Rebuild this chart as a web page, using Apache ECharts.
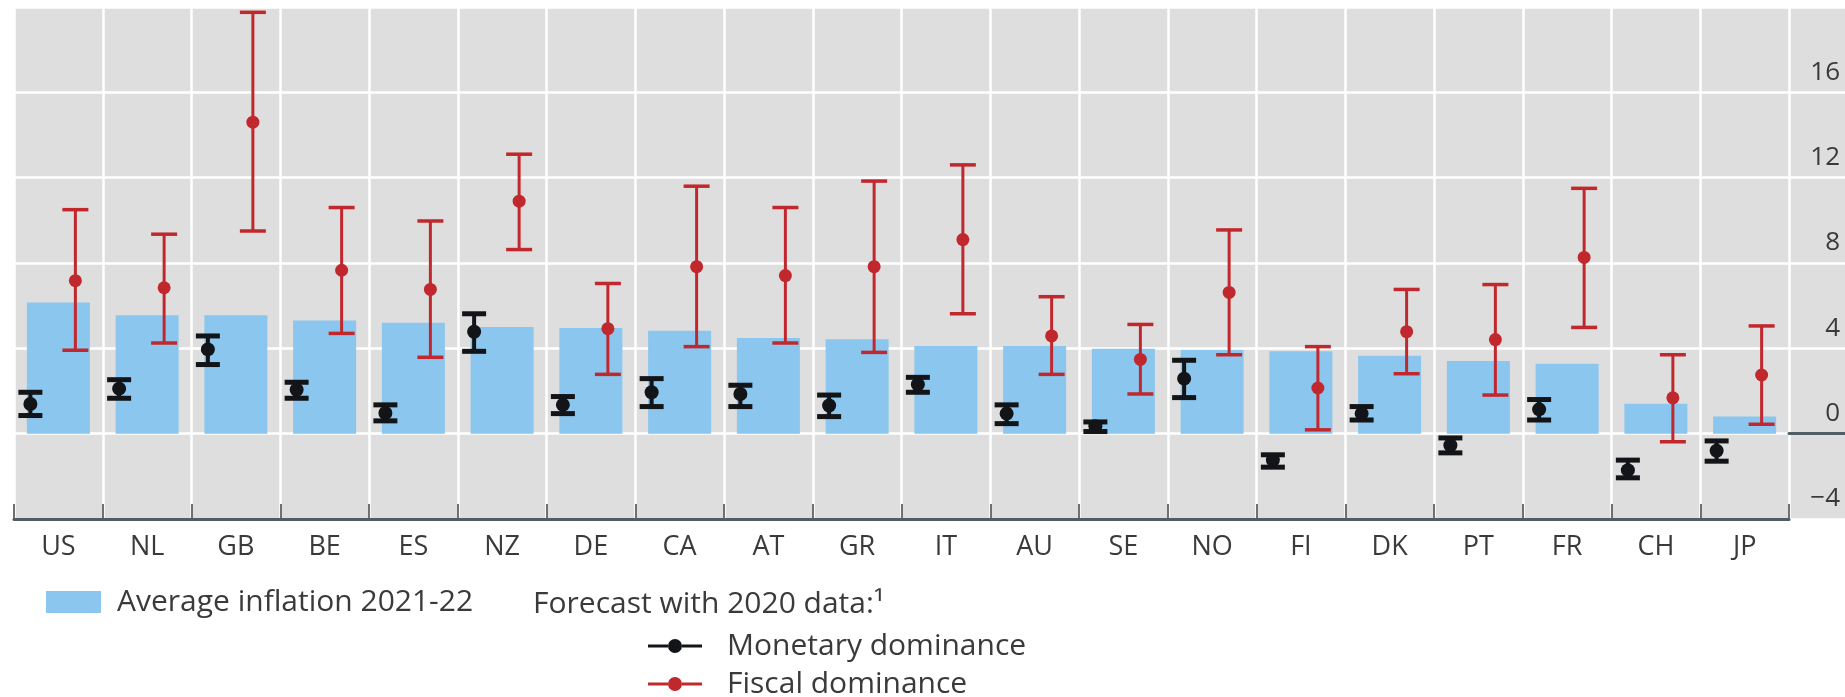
<!DOCTYPE html>
<html>
<head>
<meta charset="utf-8">
<script src="https://cdn.jsdelivr.net/npm/echarts@6/dist/echarts.min.js"></script>
<style>
  html, body { margin: 0; padding: 0; background: #ffffff; }
  #chart { width: 1845px; height: 697px; }
</style>
</head>
<body>
<div id="chart"></div>
<script>
// ---- Data ----
const countries = ['US','NL','GB','BE','ES','NZ','DE','CA','AT','GR','IT','AU','SE','NO','FI','DK','PT','FR','CH','JP'];
const inflation = [6.15, 5.55, 5.55, 5.3, 5.2, 5.0, 4.95, 4.82, 4.48, 4.42, 4.11, 4.11, 3.98, 3.92, 3.86, 3.65, 3.41, 3.28, 1.4, 0.8];
const monetary     = [1.39, 2.11, 3.95, 2.06, 0.97, 4.78, 1.35, 1.94, 1.86, 1.32, 2.31, 0.94, 0.35, 2.58, -1.24, 0.94, -0.54, 1.14, -1.71, -0.8];
const monetaryLow  = [0.85, 1.66, 3.24, 1.66, 0.6, 3.86, 0.94, 1.27, 1.27, 0.8, 1.94, 0.47, 0.1, 1.69, -1.57, 0.64, -0.9, 0.64, -2.07, -1.29];
const monetaryHigh = [1.94, 2.53, 4.58, 2.41, 1.35, 5.62, 1.74, 2.58, 2.27, 1.81, 2.64, 1.35, 0.55, 3.44, -0.99, 1.27, -0.2, 1.6, -1.24, -0.34];
const fiscal     = [7.17, 6.84, 14.6, 7.66, 6.76, 10.9, 4.92, 7.83, 7.41, 7.83, 9.1, 4.58, 3.48, 6.62, 2.14, 4.78, 4.41, 8.26, 1.68, 2.75];
const fiscalLow  = [3.91, 4.25, 9.5, 4.7, 3.58, 8.63, 2.78, 4.08, 4.25, 3.81, 5.62, 2.78, 1.86, 3.7, 0.18, 2.81, 1.81, 4.98, -0.38, 0.44];
const fiscalHigh = [10.5, 9.35, 19.75, 10.6, 9.97, 13.1, 7.04, 11.6, 10.6, 11.84, 12.6, 6.42, 5.12, 9.55, 4.08, 6.76, 6.99, 11.5, 3.7, 5.05];
const yMin = -4, yMax = 20, yStep = 4;
const barName = 'Average inflation 2021-22';
const monName = 'Monetary dominance';
const fisName = 'Fiscal dominance';
const forecastTitle = 'Forecast with 2020 data:\u00B9';

// ---- Styling ----
const FONT = "'Open Sans', 'Liberation Sans', sans-serif";
const TXT = '#3a3a3a';
const BG = '#dedede';
const BLUE = '#8ac6ee';
const BLACK = '#121417';
const RED = '#c0282d';
const ZERO = '#4f5d67';
const lineDotIcon = 'path://M0,5.5L20,5.5L20,8.5L0,8.5Z M34,5.5L54,5.5L54,8.5L34,8.5Z M20,7A7,7,0,1,0,34,7A7,7,0,1,0,20,7Z';

function errorBar(offset, color, capW, lw, capLw, r) {
  return function (params, api) {
    const i = api.value(0);
    const pm = api.coord([i, api.value(1)]);
    const pl = api.coord([i, api.value(2)]);
    const ph = api.coord([i, api.value(3)]);
    const x = pm[0] + offset;
    return {
      type: 'group',
      children: [
        { type: 'line', shape: { x1: x, y1: pl[1], x2: x, y2: ph[1] }, style: { stroke: color, lineWidth: lw } },
        { type: 'line', shape: { x1: x - capW / 2, y1: ph[1], x2: x + capW / 2, y2: ph[1] }, style: { stroke: color, lineWidth: capLw } },
        { type: 'line', shape: { x1: x - capW / 2, y1: pl[1], x2: x + capW / 2, y2: pl[1] }, style: { stroke: color, lineWidth: capLw } },
        { type: 'circle', shape: { cx: x, cy: pm[1], r: r }, style: { fill: color } }
      ]
    };
  };
}

const monData = countries.map((c, i) => [i, monetary[i], monetaryLow[i], monetaryHigh[i]]);
const fisData = countries.map((c, i) => [i, fiscal[i], fiscalLow[i], fiscalHigh[i]]);

const chart = echarts.init(document.getElementById('chart'));
chart.setOption({
  animation: false,
  backgroundColor: '#ffffff',
  textStyle: { fontFamily: FONT },
  title: {
    text: forecastTitle,
    left: 533, top: 589, padding: 0,
    textStyle: { fontFamily: FONT, fontSize: 30, fontWeight: 'normal', color: TXT, lineHeight: 30 }
  },
  legend: [
    {
      data: [barName], left: 46, top: 587, padding: 0,
      icon: 'rect', itemWidth: 55, itemHeight: 22,
      textStyle: { fontFamily: FONT, fontSize: 30, color: TXT, lineHeight: 30, padding: [0, 0, 0, 11] }
    },
    {
      data: [{ name: monName, icon: lineDotIcon }], left: 648, top: 631, padding: 0,
      itemWidth: 54, itemHeight: 14,
      textStyle: { fontFamily: FONT, fontSize: 30, color: TXT, lineHeight: 30, padding: [0, 0, 0, 20] }
    },
    {
      data: [{ name: fisName, icon: lineDotIcon }], left: 648, top: 669, padding: 0,
      itemWidth: 54, itemHeight: 14,
      textStyle: { fontFamily: FONT, fontSize: 30, color: TXT, lineHeight: 30, padding: [0, 0, 0, 20] }
    }
  ],
  grid: [
    { left: 14, right: 56, top: 7, bottom: 178, show: true, backgroundColor: BG, borderWidth: 0 },
    { left: 1789, right: 0, top: 7, bottom: 178, show: true, backgroundColor: BG, borderWidth: 0 }
  ],
  xAxis: [
    { // vertical white separators
      type: 'category', gridIndex: 0, data: countries, position: 'bottom',
      axisLine: { show: false }, axisTick: { show: false }, axisLabel: { show: false },
      splitLine: { show: true, lineStyle: { color: '#ffffff', width: 2.5 } }
    },
    { // bottom ticks + labels
      type: 'category', gridIndex: 0, data: countries, position: 'bottom',
      axisLine: { show: false, onZero: false },
      axisTick: { show: true, inside: true, length: 15, lineStyle: { color: '#707070', width: 2 } },
      axisLabel: { show: true, fontFamily: FONT, fontSize: 27, color: TXT, margin: 15 },
      splitLine: { show: false }
    },
    { // zero line
      type: 'category', gridIndex: 0, data: countries, position: 'bottom', z: 10,
      axisLine: { show: true, onZero: true, lineStyle: { color: ZERO, width: 3 } },
      axisTick: { show: false }, axisLabel: { show: false }, splitLine: { show: false }
    },
    { // zero line in label strip
      type: 'value', gridIndex: 1, min: 0, max: 1, position: 'bottom', z: 10,
      axisLine: { show: true, onZero: true, lineStyle: { color: ZERO, width: 3 } },
      axisTick: { show: false }, axisLabel: { show: false }, splitLine: { show: false }
    }
  ],
  yAxis: [
    {
      type: 'value', gridIndex: 0, min: yMin, max: yMax, interval: yStep,
      axisLine: { show: false }, axisTick: { show: false }, axisLabel: { show: false },
      splitLine: { show: true, lineStyle: { color: '#ffffff', width: 2.5 } }
    },
    {
      type: 'value', gridIndex: 1, min: yMin, max: yMax, interval: yStep, position: 'right',
      axisLine: { show: false }, axisTick: { show: false },
      axisLabel: {
        show: true, inside: true, margin: 5, showMaxLabel: false,
        fontFamily: FONT, fontSize: 26, color: TXT, verticalAlign: 'bottom', lineHeight: 40,
        formatter: v => String(v).replace('-', '\u2212')
      },
      splitLine: { show: true, lineStyle: { color: '#ffffff', width: 2.5 } }
    }
  ],
  series: [
    {
      name: barName, type: 'bar', xAxisIndex: 0, yAxisIndex: 0,
      data: inflation, barWidth: 63, z: 2,
      itemStyle: { color: BLUE }
    },
    {
      name: monName, type: 'custom', xAxisIndex: 0, yAxisIndex: 0, z: 5,
      data: monData, encode: { x: 0, y: [1, 2, 3] },
      itemStyle: { color: BLACK },
      renderItem: errorBar(-28, BLACK, 24, 4, 5, 7)
    },
    {
      name: fisName, type: 'custom', xAxisIndex: 0, yAxisIndex: 0, z: 5,
      data: fisData, encode: { x: 0, y: [1, 2, 3] },
      itemStyle: { color: RED },
      renderItem: errorBar(17, RED, 26, 3, 3.5, 6.5)
    }
  ]
});
</script>
</body>
</html>
